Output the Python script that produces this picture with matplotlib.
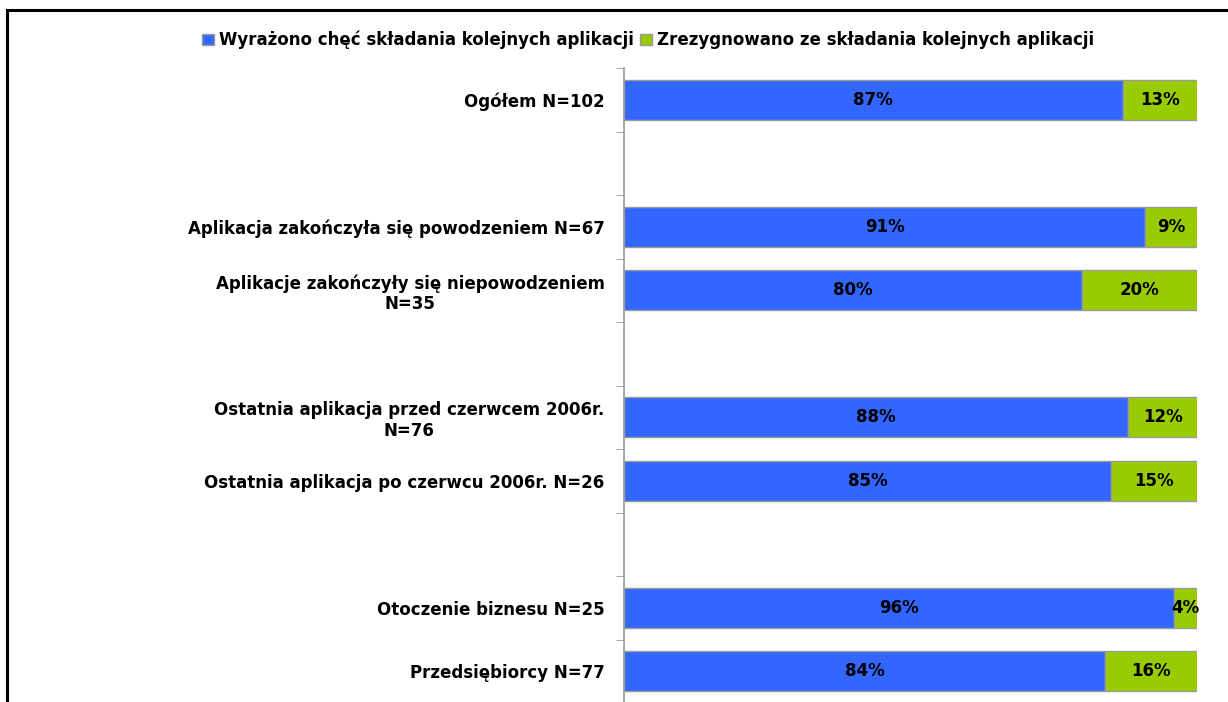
import matplotlib.pyplot as plt
from matplotlib.patches import Rectangle

# categories (None = empty spacer row)
categories = ["Ogółem N=102", None,
              "Aplikacja zakończyła się powodzeniem N=67",
              "Aplikacje zakończyły się niepowodzeniem\nN=35", None,
              "Ostatnia aplikacja przed czerwcem 2006r.\nN=76",
              "Ostatnia aplikacja po czerwcu 2006r. N=26", None,
              "Otoczenie biznesu N=25",
              "Przedsiębiorcy N=77"]
chce = [87, None, 91, 80, None, 88, 85, None, 96, 84]
rezygnacja = [13, None, 9, 20, None, 12, 15, None, 4, 16]
series_names = ["Wyrażono chęć składania kolejnych aplikacji",
                "Zrezygnowano ze składania kolejnych aplikacji"]

BLUE = "#3366FF"
GREEN = "#99CC00"
EDGE = "#9a9a9a"
FS = 12

fig = plt.figure(figsize=(12.28, 7.02), dpi=100)
ax = fig.add_axes([624 / 1228, -0.0015, (1197 - 624) / 1228, 1 - 68 / 702 + 0.0015])

# frame around the chart (cut at right/bottom like the reference)
fig.patches.append(Rectangle((7 / 1228, -0.1), 1.2, 1 - 10 / 702 + 0.1,
                             transform=fig.transFigure, fill=False,
                             edgecolor="black", linewidth=2.2))

idx = [i for i, c in enumerate(categories) if c is not None]
ypos = [i + 0.5 for i in idx]
a = [chce[i] for i in idx]
b = [rezygnacja[i] for i in idx]

h = 0.63
bars1 = ax.barh(ypos, a, height=h, color=BLUE, edgecolor=EDGE, linewidth=1,
                label=series_names[0])
bars2 = ax.barh(ypos, b, left=a, height=h, color=GREEN, edgecolor=EDGE,
                linewidth=1, label=series_names[1])

for y, va, vb in zip(ypos, a, b):
    ax.text(va / 2, y, f"{va}%", ha="center", va="center",
            fontsize=FS, fontweight="bold", color="black")
    ax.text(va + vb / 2, y, f"{vb}%", ha="center", va="center",
            fontsize=FS, fontweight="bold", color="black")

ax.set_xlim(0, 100)
ax.set_ylim(10, 0)
ax.set_yticks(ypos)
ax.set_yticklabels([categories[i] for i in idx], fontsize=FS, fontweight="bold")
for lbl in ax.get_yticklabels():
    lbl.set_multialignment("center")
ax.tick_params(axis="y", which="major", length=0, pad=14)
ax.set_yticks(range(0, 11), minor=True)
ax.tick_params(axis="y", which="minor", length=6, color="#999999", direction="out")
ax.set_xticks([])
for s in ["top", "right", "bottom"]:
    ax.spines[s].set_visible(False)
ax.spines["left"].set_color("#999999")
ax.spines["left"].set_linewidth(1.2)

fig.legend(handles=[bars1, bars2], loc="center left",
           bbox_to_anchor=(202 / 1228, 1 - 40 / 702), ncol=2, frameon=False,
           prop={"size": FS, "weight": "bold"}, handlelength=0.7,
           handleheight=0.7, handletextpad=0.3, columnspacing=0.4,
           borderaxespad=0, borderpad=0)

fig.savefig("out.png", dpi=100)
